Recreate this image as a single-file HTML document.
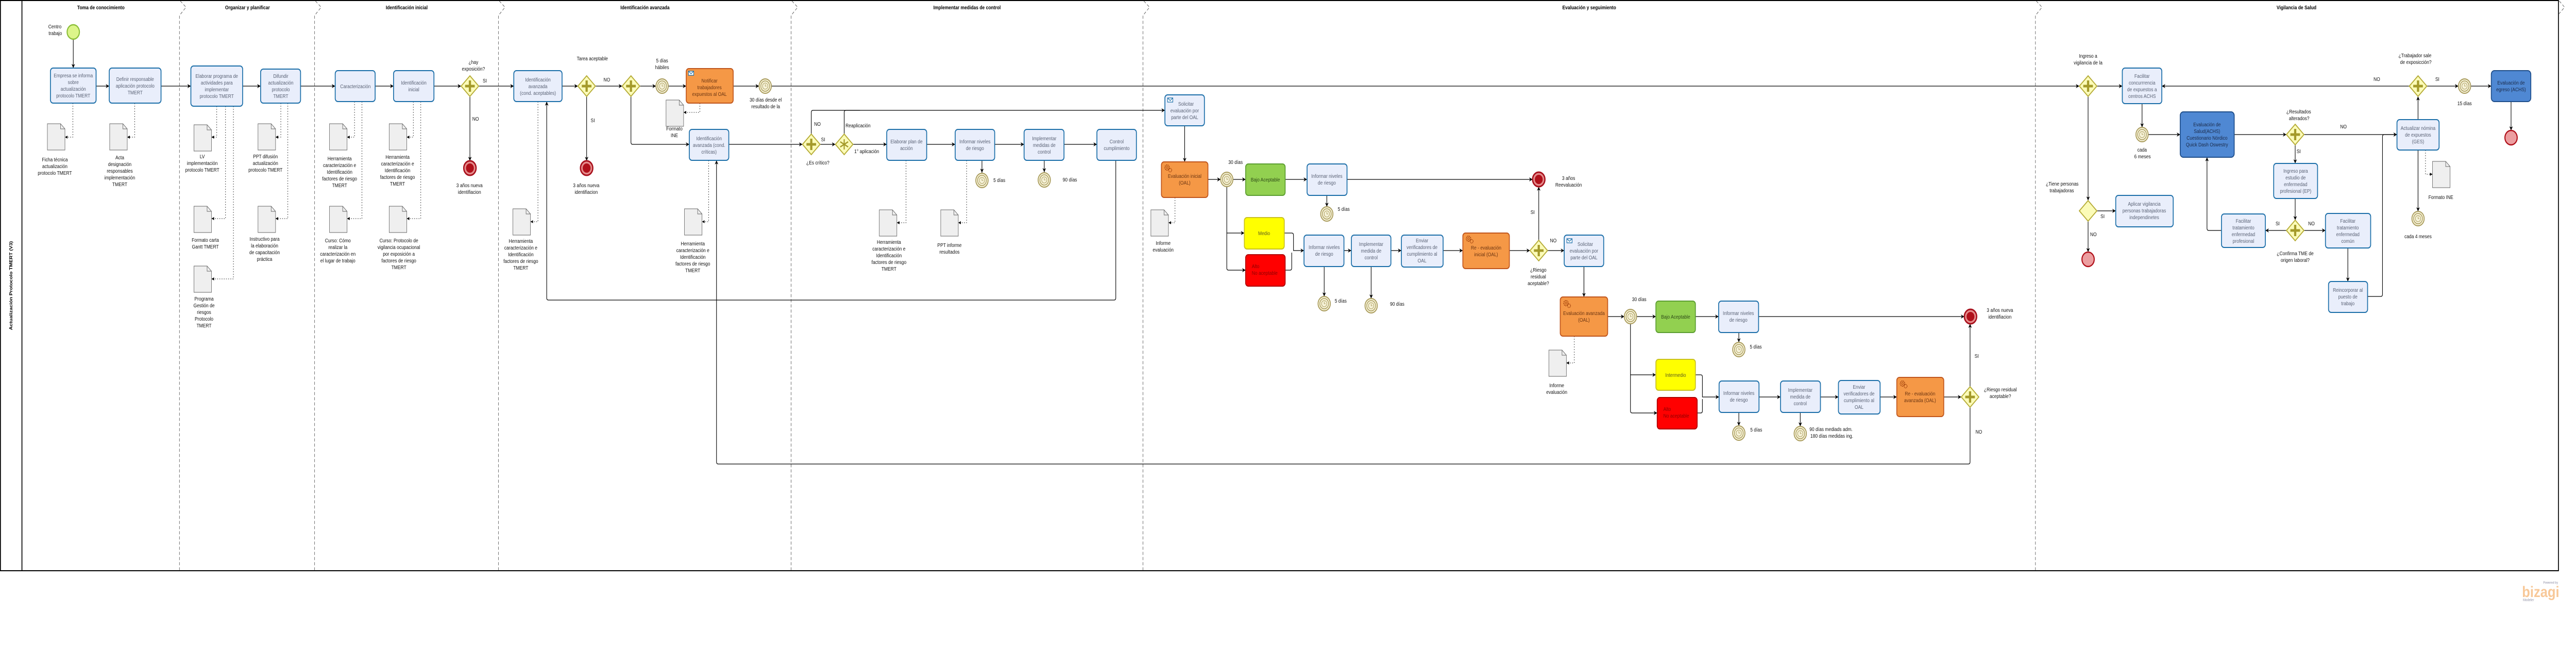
<!DOCTYPE html>
<html><head><meta charset="utf-8"><style>
html,body{margin:0;padding:0;background:#fff;width:100%;height:100%;overflow:hidden;}
svg{display:block;width:100vw;height:100vh;font-family:"Liberation Sans",sans-serif;}
.t{font-size:10px;fill:#5a6275;text-anchor:middle;}
.td{font-size:10px;fill:#1b2a48;text-anchor:middle;}
.to{font-size:10px;fill:#6b3512;text-anchor:middle;}
.l{font-size:10px;fill:#111;text-anchor:middle;}
.ll{font-size:10px;fill:#111;}
.h{font-size:10px;font-weight:bold;fill:#000;text-anchor:middle;}
.task{fill:#e9eefb;stroke:#1c6fa9;stroke-width:2;}
.c{fill:none;stroke:#000;stroke-width:1.3;}
.a{fill:none;stroke:#222;stroke-width:1;stroke-dasharray:2 3;}
.sep{fill:none;stroke:#555;stroke-width:1;stroke-dasharray:6 4;}
</style></head><body>
<svg viewBox="0 0 5871 1253" preserveAspectRatio="none" xmlns="http://www.w3.org/2000/svg">
<defs>
<marker id="ar" viewBox="0 0 10 10" refX="10" refY="5" markerWidth="8" markerHeight="8" orient="auto" markerUnits="userSpaceOnUse"><path d="M0,0 L10,5 L0,10 L3,5 Z" fill="#000"/></marker>
<marker id="as" viewBox="0 0 10 10" refX="10" refY="5" markerWidth="6" markerHeight="6" orient="auto" markerUnits="userSpaceOnUse"><path d="M0,0 L10,5 L0,10 Z" fill="#000"/></marker>
<g id="gw"><polygon points="0,-20 20,0 0,20 -20,0" fill="#fbfbb8" stroke="#b5ab35" stroke-width="2"/><rect x="-2.5" y="-11" width="5" height="22" fill="#a49a2a"/><rect x="-11" y="-2.5" width="22" height="5" fill="#a49a2a"/></g>
<g id="gwe"><polygon points="0,-20 20,0 0,20 -20,0" fill="#fbfbb8" stroke="#b5ab35" stroke-width="2"/></g>
<g id="gwx"><polygon points="0,-20 20,0 0,20 -20,0" fill="#fbfbb8" stroke="#b5ab35" stroke-width="2"/><path d="M0,-10V10M-9,-5L9,5M-9,5L9,-5" stroke="#a49a2a" stroke-width="2.5"/></g>
<g id="tm"><circle r="14" fill="#f6f2d8" stroke="#a89a5a" stroke-width="2"/><circle r="10" fill="none" stroke="#a89a5a" stroke-width="1.5"/><circle r="6" fill="none" stroke="#a89a5a" stroke-width="1"/><path d="M0,-4V0H3" stroke="#a89a5a" fill="none" stroke-width="1"/></g>
<g id="end"><circle r="14" fill="#e58c8c" stroke="#a8101c" stroke-width="3"/><circle r="9" fill="#b0101a"/></g>
<g id="endp"><circle r="14" fill="#ec9ea0" stroke="#b0101a" stroke-width="2.5"/></g>
<g id="doc"><path d="M0,0H30L40,10V51H0Z" fill="#efefef" stroke="#666" stroke-width="1"/><path d="M30,0V10H40" fill="none" stroke="#666" stroke-width="1"/></g>
<g id="env"><rect x="0" y="0" width="12" height="8" fill="#fff" stroke="#1c6fa9" stroke-width="1.3"/><path d="M0,0L6,5L12,0" fill="none" stroke="#1c6fa9" stroke-width="1.3"/></g>
<g id="gear"><circle r="5" fill="none" stroke="#a0400a" stroke-width="2" stroke-dasharray="2 1.5"/><circle r="2" fill="none" stroke="#a0400a" stroke-width="1"/><circle cx="7" cy="5" r="3.5" fill="none" stroke="#a0400a" stroke-width="1.5" stroke-dasharray="1.5 1"/></g>
</defs>

<rect x="1" y="1" width="5830" height="1106" fill="none" stroke="#000" stroke-width="2"/>
<line x1="50" y1="1" x2="50" y2="1107" stroke="#000" stroke-width="2"/>
<text transform="translate(28,554) rotate(-90)" class="h">Actualización Protocolo TMERT (V3)</text>

<g class="sep">
<path d="M411,2L424,14L409,30V1107"/>
<path d="M719,2L732,14L717,30V1107"/>
<path d="M1138,2L1151,14L1136,30V1107"/>
<path d="M1805,2L1818,14L1803,30V1107"/>
<path d="M2607,2L2620,14L2605,30V1107"/>
<path d="M4641,2L4654,14L4639,30V1107"/>
<path d="M5833,2L5845,14L5831,28"/>
</g>
<text class="h" x="230" y="18">Toma de conocimiento</text>
<text class="h" x="564" y="18">Organizar y planificar</text>
<text class="h" x="927" y="18">Identificación inicial</text>
<text class="h" x="1470" y="18">Identificación avanzada</text>
<text class="h" x="2204" y="18">Implementar medidas de control</text>
<text class="h" x="3622" y="18">Evaluación y seguimiento</text>
<text class="h" x="5234" y="18">Vigilancia de Salud</text>

<g class="c" marker-end="url(#ar)">
<path d="M167,76V132"/>
<path d="M219,167H249"/>
<path d="M367,167H435"/>
<path d="M553,167H594"/>
<path d="M685,167H764"/>
<path d="M855,167H897"/>
<path d="M989,167H1051"/>
<path d="M1091,167H1171"/>
<path d="M1071,187V312"/>
<path d="M1281,167H1317"/>
<path d="M1357,167H1418"/>
<path d="M1337,187V312"/>
<path d="M1458,167H1495"/>
<path d="M1523,167H1564"/>
<path d="M1671,167H1730"/>
<path d="M1758,167H4739"/>
<path d="M1438,187V276Q1438,280 1442,280H1571"/>
<path d="M1661,280H1829"/>
<path d="M1869,280H1904"/>
<path d="M1944,280H2021"/>
<path d="M2112,280H2177"/>
<path d="M2267,280H2334"/>
<path d="M2425,280H2500"/>
<path d="M1849,260V218Q1849,214 1853,214H2655"/>
<path d="M1924,260V218Q1924,214 1928,214H1960" marker-end="none"/>
<path d="M2238,311V335"/>
<path d="M2380,311V334"/>
<path d="M2543,311V578Q2543,582 2539,582H1250Q1246,582 1246,578V197"/>
<path d="M2700,244V314"/>
<path d="M2753,348H2782"/>
<path d="M2810,348H2839"/>
<path d="M2929,348H2979"/>
<path d="M3024,379V401"/>
<path d="M3070,348H3493"/>
<path d="M2796,362V520Q2796,524 2800,524H2839"/>
<path d="M2796,452H2836"/>
<path d="M2927,452H2944Q2948,452 2948,456V486H2972"/>
<path d="M2929,524H2940Q2944,524 2944,520V490" marker-end="none"/>
<path d="M3018,517V575"/>
<path d="M3125,517V579"/>
<path d="M3063,486H3080"/>
<path d="M3170,486H3194"/>
<path d="M3289,486H3334"/>
<path d="M3440,486H3487"/>
<path d="M3507,466V362"/>
<path d="M3527,486H3565"/>
<path d="M3610,517V576"/>
<path d="M3664,614H3702"/>
<path d="M3730,614H3774"/>
<path d="M3864,614H3917"/>
<path d="M3963,645V664"/>
<path d="M4008,614H4477"/>
<path d="M3716,628V797Q3716,801 3720,801H3777"/>
<path d="M3716,727H3774"/>
<path d="M3864,727H3876Q3880,727 3880,731V770H3918"/>
<path d="M3868,801H3876Q3880,801 3880,797V774" marker-end="none"/>
<path d="M3963,800V826"/>
<path d="M4103,800V827"/>
<path d="M4009,770H4058"/>
<path d="M4149,770H4190"/>
<path d="M4285,770H4323"/>
<path d="M4430,770H4470"/>
<path d="M4490,750V628"/>
<path d="M4490,790V896Q4490,900 4486,900H1637Q1633,900 1633,896V311"/>
<path d="M4779,167H4837"/>
<path d="M4759,187V389"/>
<path d="M4779,409H4822"/>
<path d="M4759,429V489"/>
<path d="M4882,201V247"/>
<path d="M4896,261H4969"/>
<path d="M5092,261H5211"/>
<path d="M5251,261H5463"/>
<path d="M5231,281V317"/>
<path d="M5231,385V427"/>
<path d="M5211,447H5163"/>
<path d="M5251,447H5300"/>
<path d="M5063,447H5034Q5030,447 5030,443V305"/>
<path d="M5351,481V546"/>
<path d="M5396,575H5426Q5430,575 5430,571V265Q5430,261 5434,261H5463"/>
<path d="M5511,232V187"/>
<path d="M5511,291V410"/>
<path d="M5491,167H4927"/>
<path d="M5531,167H5603"/>
<path d="M5631,167H5678"/>
<path d="M5723,197V253"/>
</g>

<g class="a" marker-end="url(#as)">
<path d="M166,200V266H148"/>
<path d="M307,200V266H290"/>
<path d="M494,206V266H482"/>
<path d="M514,206V424H482"/>
<path d="M532,206V541H482"/>
<path d="M640,200V266H628"/>
<path d="M656,200V424H628"/>
<path d="M808,197V266H791"/>
<path d="M825,197V424H791"/>
<path d="M942,197V266H927"/>
<path d="M959,197V424H927"/>
<path d="M1226,197V430H1209"/>
<path d="M1595,200V218H1558"/>
<path d="M1615,311V430H1600"/>
<path d="M2065,311V432H2044"/>
<path d="M2203,311V432H2184"/>
<path d="M2678,383V432H2663"/>
<path d="M3588,652V704H3570"/>
<path d="M5528,291V338H5544"/>
</g>

<use href="#doc" x="108" y="240"/><use href="#doc" x="250" y="240"/>
<use href="#doc" x="442" y="242"/><use href="#doc" x="442" y="400"/><use href="#doc" x="442" y="516"/>
<use href="#doc" x="588" y="240"/><use href="#doc" x="588" y="400"/>
<use href="#doc" x="751" y="240"/><use href="#doc" x="751" y="400"/>
<use href="#doc" x="887" y="240"/><use href="#doc" x="887" y="400"/>
<use href="#doc" x="1169" y="405"/><use href="#doc" x="1518" y="194"/><use href="#doc" x="1560" y="405"/>
<use href="#doc" x="2004" y="407"/><use href="#doc" x="2144" y="407"/>
<use href="#doc" x="2623" y="407"/><use href="#doc" x="3530" y="679"/><use href="#doc" x="5544" y="313"/>

<circle cx="167" cy="62" r="14" fill="#dcf58a" stroke="#8cbf3a" stroke-width="2.5"/>
<use href="#end" x="1071" y="326"/><use href="#end" x="1337" y="326"/>
<use href="#end" x="3507" y="348"/><use href="#end" x="4491" y="614"/>
<use href="#endp" x="4759" y="503"/><use href="#endp" x="5723" y="267"/>

<use href="#gw" x="1071" y="167"/><use href="#gw" x="1337" y="167"/><use href="#gw" x="1438" y="167"/>
<use href="#gw" x="1849" y="280"/><use href="#gwx" x="1924" y="280"/>
<use href="#gw" x="3507" y="486"/><use href="#gw" x="4490" y="770"/>
<use href="#gw" x="4759" y="167"/><use href="#gwe" x="4759" y="409"/>
<use href="#gw" x="5231" y="261"/><use href="#gw" x="5231" y="447"/><use href="#gw" x="5511" y="167"/>

<use href="#tm" x="1509" y="167"/><use href="#tm" x="1744" y="167"/>
<use href="#tm" x="2238" y="350"/><use href="#tm" x="2380" y="349"/>
<use href="#tm" x="2796" y="348"/><use href="#tm" x="3024" y="415"/>
<use href="#tm" x="3018" y="589"/><use href="#tm" x="3125" y="593"/>
<use href="#tm" x="3716" y="614"/><use href="#tm" x="3963" y="678"/>
<use href="#tm" x="3963" y="840"/><use href="#tm" x="4103" y="841"/>
<use href="#tm" x="4882" y="261"/><use href="#tm" x="5511" y="424"/><use href="#tm" x="5617" y="167"/>

<rect class="task" x="115" y="132" width="104" height="68" rx="6"/>
<text class="t"><tspan x="167" y="150">Empresa se informa</tspan><tspan x="167" y="163">sobre</tspan><tspan x="167" y="176">actualización</tspan><tspan x="167" y="189">protocolo TMERT</tspan></text>
<rect class="task" x="249" y="132" width="118" height="68" rx="6"/>
<text class="t"><tspan x="308" y="157">Definir responsable</tspan><tspan x="308" y="170">aplicación protocolo</tspan><tspan x="308" y="183">TMERT</tspan></text>
<rect class="task" x="435" y="128" width="118" height="78" rx="6"/>
<text class="t"><tspan x="494" y="151">Elaborar programa de</tspan><tspan x="494" y="164">actividades para</tspan><tspan x="494" y="177">implementar</tspan><tspan x="494" y="190">protocolo TMERT</tspan></text>
<rect class="task" x="594" y="134" width="91" height="66" rx="6"/>
<text class="t"><tspan x="640" y="151">Difundir</tspan><tspan x="640" y="164">actualización</tspan><tspan x="640" y="177">protocolo</tspan><tspan x="640" y="190">TMERT</tspan></text>
<rect class="task" x="764" y="137" width="91" height="60" rx="6"/>
<text class="t"><tspan x="810" y="171">Caracterización</tspan></text>
<rect class="task" x="897" y="137" width="92" height="60" rx="6"/>
<text class="t"><tspan x="943" y="164">Identificación</tspan><tspan x="943" y="177">inicial</tspan></text>
<rect class="task" x="1171" y="137" width="110" height="60" rx="6"/>
<text class="t"><tspan x="1226" y="158">Identificación</tspan><tspan x="1226" y="171">avanzada</tspan><tspan x="1226" y="184">(cond. aceptables)</tspan></text>
<rect x="1564" y="133" width="107" height="67" rx="6" fill="#f59846" stroke="#c0561d" stroke-width="2"/>
<use href="#env" x="1569" y="138"/>
<text class="to"><tspan x="1617" y="160">Notificar</tspan><tspan x="1617" y="173">trabajadores</tspan><tspan x="1617" y="186">expuestos al OAL</tspan></text>
<rect class="task" x="1571" y="251" width="90" height="60" rx="6"/>
<text class="t"><tspan x="1616" y="272">Identificación</tspan><tspan x="1616" y="285">avanzada (cond.</tspan><tspan x="1616" y="298">críticas)</tspan></text>
<rect class="task" x="2021" y="251" width="91" height="60" rx="6"/>
<text class="t"><tspan x="2066" y="278">Elaborar plan de</tspan><tspan x="2066" y="291">acción</tspan></text>
<rect class="task" x="2177" y="251" width="90" height="60" rx="6"/>
<text class="t"><tspan x="2222" y="278">Informar niveles</tspan><tspan x="2222" y="291">de riesgo</tspan></text>
<rect class="task" x="2334" y="251" width="91" height="60" rx="6"/>
<text class="t"><tspan x="2380" y="272">Implementar</tspan><tspan x="2380" y="285">medidas de</tspan><tspan x="2380" y="298">control</tspan></text>
<rect class="task" x="2500" y="251" width="90" height="60" rx="6"/>
<text class="t"><tspan x="2545" y="278">Control</tspan><tspan x="2545" y="291">cumplimiento</tspan></text>
<rect class="task" x="2655" y="184" width="90" height="60" rx="6"/>
<use href="#env" x="2661" y="190"/>
<text class="t"><tspan x="2703" y="205">Solicitar</tspan><tspan x="2700" y="218">evaluación por</tspan><tspan x="2700" y="231">parte del OAL</tspan></text>
<rect x="2647" y="314" width="106" height="69" rx="6" fill="#f59846" stroke="#c0561d" stroke-width="2"/>
<use href="#gear" x="2660" y="325"/>
<text class="to"><tspan x="2700" y="345">Evaluación inicial</tspan><tspan x="2700" y="358">(OAL)</tspan></text>
<rect x="2839" y="318" width="90" height="61" rx="6" fill="#92d050" stroke="#5c9e31" stroke-width="2"/>
<text class="t" style="fill:#2f4a18"><tspan x="2884" y="352">Bajo Aceptable</tspan></text>
<rect class="task" x="2979" y="318" width="91" height="61" rx="6"/>
<text class="t"><tspan x="3024" y="345">Informar niveles</tspan><tspan x="3024" y="358">de riesgo</tspan></text>
<rect x="2836" y="422" width="91" height="61" rx="6" fill="#ffff00" stroke="#c8c020" stroke-width="2"/>
<text class="t" style="fill:#5a5a20"><tspan x="2881" y="456">Medio</tspan></text>
<rect x="2839" y="494" width="90" height="61" rx="6" fill="#ff0000" stroke="#b00000" stroke-width="2"/>
<text class="ll" style="fill:#8a0000"><tspan x="2853" y="520">Alto</tspan><tspan x="2853" y="533">No aceptable</tspan></text>
<rect class="task" x="2972" y="456" width="91" height="61" rx="6"/>
<text class="t"><tspan x="3018" y="483">Informar niveles</tspan><tspan x="3018" y="496">de riesgo</tspan></text>
<rect class="task" x="3080" y="456" width="90" height="61" rx="6"/>
<text class="t"><tspan x="3125" y="477">Implementar</tspan><tspan x="3125" y="490">medida de</tspan><tspan x="3125" y="503">control</tspan></text>
<rect class="task" x="3194" y="456" width="95" height="62" rx="6"/>
<text class="t"><tspan x="3241" y="470">Enviar</tspan><tspan x="3241" y="483">verificadores de</tspan><tspan x="3241" y="496">cumplimiento al</tspan><tspan x="3241" y="509">OAL</tspan></text>
<rect x="3334" y="452" width="106" height="69" rx="6" fill="#f59846" stroke="#c0561d" stroke-width="2"/>
<use href="#gear" x="3347" y="463"/>
<text class="to"><tspan x="3387" y="484">Re - evaluación</tspan><tspan x="3387" y="497">inicial (OAL)</tspan></text>
<rect class="task" x="3565" y="456" width="90" height="61" rx="6"/>
<use href="#env" x="3571" y="463"/>
<text class="t"><tspan x="3613" y="477">Solicitar</tspan><tspan x="3610" y="490">evaluación por</tspan><tspan x="3610" y="503">parte del OAL</tspan></text>
<rect x="3556" y="576" width="108" height="76" rx="6" fill="#f59846" stroke="#c0561d" stroke-width="2"/>
<use href="#gear" x="3569" y="588"/>
<text class="to"><tspan x="3610" y="611">Evaluación avanzada</tspan><tspan x="3610" y="624">(OAL)</tspan></text>
<rect x="3774" y="584" width="90" height="61" rx="6" fill="#92d050" stroke="#5c9e31" stroke-width="2"/>
<text class="t" style="fill:#2f4a18"><tspan x="3819" y="618">Bajo Aceptable</tspan></text>
<rect class="task" x="3917" y="584" width="91" height="61" rx="6"/>
<text class="t"><tspan x="3962" y="611">Informar niveles</tspan><tspan x="3962" y="624">de riesgo</tspan></text>
<rect x="3774" y="697" width="90" height="60" rx="6" fill="#ffff00" stroke="#c8c020" stroke-width="2"/>
<text class="t" style="fill:#5a5a20"><tspan x="3819" y="731">Intermedio</tspan></text>
<rect x="3777" y="771" width="91" height="61" rx="6" fill="#ff0000" stroke="#b00000" stroke-width="2"/>
<text class="ll" style="fill:#8a0000"><tspan x="3791" y="797">Alto</tspan><tspan x="3791" y="810">No aceptable</tspan></text>
<rect class="task" x="3918" y="739" width="91" height="61" rx="6"/>
<text class="t"><tspan x="3963" y="766">Informar niveles</tspan><tspan x="3963" y="779">de riesgo</tspan></text>
<rect class="task" x="4058" y="739" width="91" height="61" rx="6"/>
<text class="t"><tspan x="4103" y="760">Implementar</tspan><tspan x="4103" y="773">medida de</tspan><tspan x="4103" y="786">control</tspan></text>
<rect class="task" x="4190" y="738" width="95" height="65" rx="6"/>
<text class="t"><tspan x="4237" y="754">Enviar</tspan><tspan x="4237" y="767">verificadores de</tspan><tspan x="4237" y="780">cumplimiento al</tspan><tspan x="4237" y="793">OAL</tspan></text>
<rect x="4323" y="732" width="107" height="76" rx="6" fill="#f59846" stroke="#c0561d" stroke-width="2"/>
<use href="#gear" x="4336" y="744"/>
<text class="to"><tspan x="4376" y="767">Re - evaluación</tspan><tspan x="4376" y="780">avanzada (OAL)</tspan></text>

<rect class="task" x="4837" y="132" width="90" height="69" rx="6"/>
<text class="t"><tspan x="4882" y="151">Facilitar</tspan><tspan x="4882" y="164">concurrrencia</tspan><tspan x="4882" y="177">de expuestos a</tspan><tspan x="4882" y="190">centros ACHS</tspan></text>
<rect x="4969" y="217" width="123" height="88" rx="7" fill="#4f88d3" stroke="#1f4e8a" stroke-width="2"/>
<text class="td"><tspan x="5030" y="245">Evaluación de</tspan><tspan x="5030" y="258">Salud(ACHS)</tspan><tspan x="5030" y="271">Cuestionario Nórdico</tspan><tspan x="5030" y="284">Quick Dash Oswestry</tspan></text>
<rect class="task" x="5182" y="317" width="100" height="68" rx="6"/>
<text class="t"><tspan x="5232" y="335">Ingreso para</tspan><tspan x="5232" y="348">estudio de</tspan><tspan x="5232" y="361">enfermedad</tspan><tspan x="5232" y="374">profesional (EP)</tspan></text>
<rect class="task" x="5063" y="415" width="100" height="65" rx="6"/>
<text class="t"><tspan x="5113" y="432">Facilitar</tspan><tspan x="5113" y="445">tratamiento</tspan><tspan x="5113" y="458">enfermedad</tspan><tspan x="5113" y="471">profesional</tspan></text>
<rect class="task" x="5300" y="414" width="103" height="67" rx="6"/>
<text class="t"><tspan x="5351" y="432">Facilitar</tspan><tspan x="5351" y="445">tratamiento</tspan><tspan x="5351" y="458">enfermedad</tspan><tspan x="5351" y="471">común</tspan></text>
<rect class="task" x="5307" y="546" width="89" height="60" rx="6"/>
<text class="t"><tspan x="5351" y="566">Reincorporar al</tspan><tspan x="5351" y="579">puesto de</tspan><tspan x="5351" y="592">trabajo</tspan></text>
<rect class="task" x="5463" y="232" width="96" height="59" rx="6"/>
<text class="t"><tspan x="5511" y="252">Actualizar nómina</tspan><tspan x="5511" y="265">de expuestos</tspan><tspan x="5511" y="278">(GES)</tspan></text>
<rect x="5678" y="137" width="90" height="60" rx="7" fill="#4f88d3" stroke="#1f4e8a" stroke-width="2"/>
<text class="td"><tspan x="5723" y="164">Evaluación de</tspan><tspan x="5723" y="177">egreso (ACHS)</tspan></text>
<rect class="task" x="4822" y="379" width="131" height="61" rx="6"/>
<text class="t"><tspan x="4887" y="399">Aplicar vigilancia</tspan><tspan x="4887" y="412">personas trabajadoras</tspan><tspan x="4887" y="425">independinetes</tspan></text>

<text class="l"><tspan x="125" y="313">Ficha técnica</tspan><tspan x="125" y="326">actualización</tspan><tspan x="125" y="339">protocolo TMERT</tspan></text>
<text class="l"><tspan x="273" y="309">Acta</tspan><tspan x="273" y="322">designación</tspan><tspan x="273" y="335">responsables</tspan><tspan x="273" y="348">implementación</tspan><tspan x="273" y="361">TMERT</tspan></text>
<text class="l"><tspan x="461" y="307">LV</tspan><tspan x="461" y="320">implementación</tspan><tspan x="461" y="333">protocolo TMERT</tspan></text>
<text class="l"><tspan x="468" y="469">Formato carta</tspan><tspan x="468" y="482">Gantt TMERT</tspan></text>
<text class="l"><tspan x="465" y="583">Programa</tspan><tspan x="465" y="596">Gestión de</tspan><tspan x="465" y="609">riesgos</tspan><tspan x="465" y="622">Protocolo</tspan><tspan x="465" y="635">TMERT</tspan></text>
<text class="l"><tspan x="605" y="307">PPT difusión</tspan><tspan x="605" y="320">actualización</tspan><tspan x="605" y="333">protocolo TMERT</tspan></text>
<text class="l"><tspan x="603" y="467">Instructivo para</tspan><tspan x="603" y="480">la elaboración</tspan><tspan x="603" y="493">de capacitación</tspan><tspan x="603" y="506">práctica</tspan></text>
<text class="l"><tspan x="774" y="311">Herramienta</tspan><tspan x="774" y="324">caracterización e</tspan><tspan x="774" y="337">Identificación</tspan><tspan x="774" y="350">factores de riesgo</tspan><tspan x="774" y="363">TMERT</tspan></text>
<text class="l"><tspan x="770" y="470">Curso: Cómo</tspan><tspan x="770" y="483">realizar la</tspan><tspan x="770" y="496">caracterización en</tspan><tspan x="770" y="509">el lugar de trabajo</tspan></text>
<text class="l"><tspan x="906" y="308">Herramienta</tspan><tspan x="906" y="321">caracterización e</tspan><tspan x="906" y="334">Identificación</tspan><tspan x="906" y="347">factores de riesgo</tspan><tspan x="906" y="360">TMERT</tspan></text>
<text class="l"><tspan x="909" y="470">Curso: Protocolo de</tspan><tspan x="909" y="483">vigilancia ocupacional</tspan><tspan x="909" y="496">por exposición a</tspan><tspan x="909" y="509">factores de riesgo</tspan><tspan x="909" y="522">TMERT</tspan></text>
<text class="l"><tspan x="1187" y="471">Herramienta</tspan><tspan x="1187" y="484">caracterización e</tspan><tspan x="1187" y="497">Identificación</tspan><tspan x="1187" y="510">factores de riesgo</tspan><tspan x="1187" y="523">TMERT</tspan></text>
<text class="l"><tspan x="1537" y="253">Formato</tspan><tspan x="1537" y="266">INE</tspan></text>
<text class="l"><tspan x="1579" y="476">Herramienta</tspan><tspan x="1579" y="489">caracterización e</tspan><tspan x="1579" y="502">Identificación</tspan><tspan x="1579" y="515">factores de riesgo</tspan><tspan x="1579" y="528">TMERT</tspan></text>
<text class="l"><tspan x="2026" y="473">Herramienta</tspan><tspan x="2026" y="486">caracterización e</tspan><tspan x="2026" y="499">Identificación</tspan><tspan x="2026" y="512">factores de riesgo</tspan><tspan x="2026" y="525">TMERT</tspan></text>
<text class="l"><tspan x="2164" y="479">PPT informe</tspan><tspan x="2164" y="492">resultados</tspan></text>
<text class="l"><tspan x="2651" y="475">Informe</tspan><tspan x="2651" y="488">evaluación</tspan></text>
<text class="l"><tspan x="3548" y="751">Informe</tspan><tspan x="3548" y="764">evaluación</tspan></text>
<text class="l"><tspan x="5563" y="386">Formato INE</tspan></text>

<text class="l"><tspan x="125" y="55">Centro</tspan><tspan x="126" y="68">trabajo</tspan></text>
<text class="l"><tspan x="1079" y="124">¿hay</tspan><tspan x="1079" y="137">exposición?</tspan></text>
<text class="l" x="1105" y="160">SI</text><text class="l" x="1084" y="234">NO</text>
<text class="l"><tspan x="1070" y="363">3 años nueva</tspan><tspan x="1070" y="376">identifiacion</tspan></text>
<text class="l"><tspan x="1336" y="363">3 años nueva</tspan><tspan x="1336" y="376">identifiacion</tspan></text>
<text class="l" x="1350" y="117">Tarea aceptable</text>
<text class="l" x="1383" y="158">NO</text><text class="l" x="1351" y="237">SI</text>
<text class="l"><tspan x="1509" y="121">5 días</tspan><tspan x="1509" y="134">hábiles</tspan></text>
<text class="l"><tspan x="1745" y="197">30 días desde el</tspan><tspan x="1745" y="210">resultado de la</tspan></text>
<text class="l" x="1863" y="244">NO</text><text class="l" x="1876" y="274">SI</text>
<text class="l" x="1864" y="319">¿Es crítico?</text>
<text class="ll" x="1927" y="247">Reaplicación</text>
<text class="ll" x="1947" y="297">1° aplicación</text>
<text class="ll" x="2264" y="353">5 días</text>
<text class="ll" x="2422" y="352">90 días</text>
<text class="l" x="2816" y="318">30 días</text>
<text class="ll" x="3049" y="409">5 días</text>
<text class="ll" x="3042" y="587">5 días</text>
<text class="ll" x="3168" y="593">90 días</text>
<text class="l"><tspan x="3575" y="349">3 años</tspan><tspan x="3575" y="362">Reevaluación</tspan></text>
<text class="l" x="3493" y="415">SI</text><text class="l" x="3540" y="470">NO</text>
<text class="l"><tspan x="3506" y="527">¿Riesgo</tspan><tspan x="3506" y="540">residual</tspan><tspan x="3506" y="553">aceptable?</tspan></text>
<text class="l" x="3736" y="584">30 días</text>
<text class="ll" x="3988" y="676">5 días</text>
<text class="ll" x="3989" y="837">5 días</text>
<text class="ll"><tspan x="4124" y="836">90 días mediads adm.</tspan><tspan x="4126" y="849">180 días medidas ing.</tspan></text>
<text class="l"><tspan x="4558" y="605">3 años nueva</tspan><tspan x="4558" y="618">identifiacion</tspan></text>
<text class="l" x="4505" y="694">SI</text>
<text class="l"><tspan x="4559" y="759">¿Riesgo residual</tspan><tspan x="4559" y="772">aceptable?</tspan></text>
<text class="l" x="4510" y="841">NO</text>
<text class="l"><tspan x="4759" y="112">Ingreso a</tspan><tspan x="4759" y="125">vigilancia de la</tspan></text>
<text class="l"><tspan x="4882" y="294">cada</tspan><tspan x="4883" y="307">6 meses</tspan></text>
<text class="l"><tspan x="5239" y="220">¿Resultados</tspan><tspan x="5240" y="233">alterados?</tspan></text>
<text class="l" x="5239" y="297">SI</text><text class="l" x="5341" y="249">NO</text>
<text class="l"><tspan x="4700" y="360">¿Tiene personas</tspan><tspan x="4699" y="373">trabajadoras</tspan></text>
<text class="l" x="4792" y="423">SI</text><text class="l" x="4771" y="458">NO</text>
<text class="l" x="5191" y="437">SI</text><text class="l" x="5268" y="437">NO</text>
<text class="l"><tspan x="5231" y="495">¿Confirma TME de</tspan><tspan x="5231" y="508">origen laboral?</tspan></text>
<text class="l" x="5511" y="462">cada 4 meses</text>
<text class="l"><tspan x="5504" y="111">¿Trabajador sale</tspan><tspan x="5506" y="124">de exposicción?</tspan></text>
<text class="l" x="5417" y="157">NO</text><text class="l" x="5555" y="157">SI</text>
<text class="l" x="5617" y="204">15 días</text>

<text x="5830" y="1132" style="font-size:6px;fill:#aab;text-anchor:end;font-weight:bold">Powered by</text>
<text x="5748" y="1158" style="font-size:30px;fill:#f8c898;font-weight:bold">bizagi</text>
<text x="5750" y="1166" style="font-size:7px;fill:#99a">Modeler</text>
</svg>
</body></html>
